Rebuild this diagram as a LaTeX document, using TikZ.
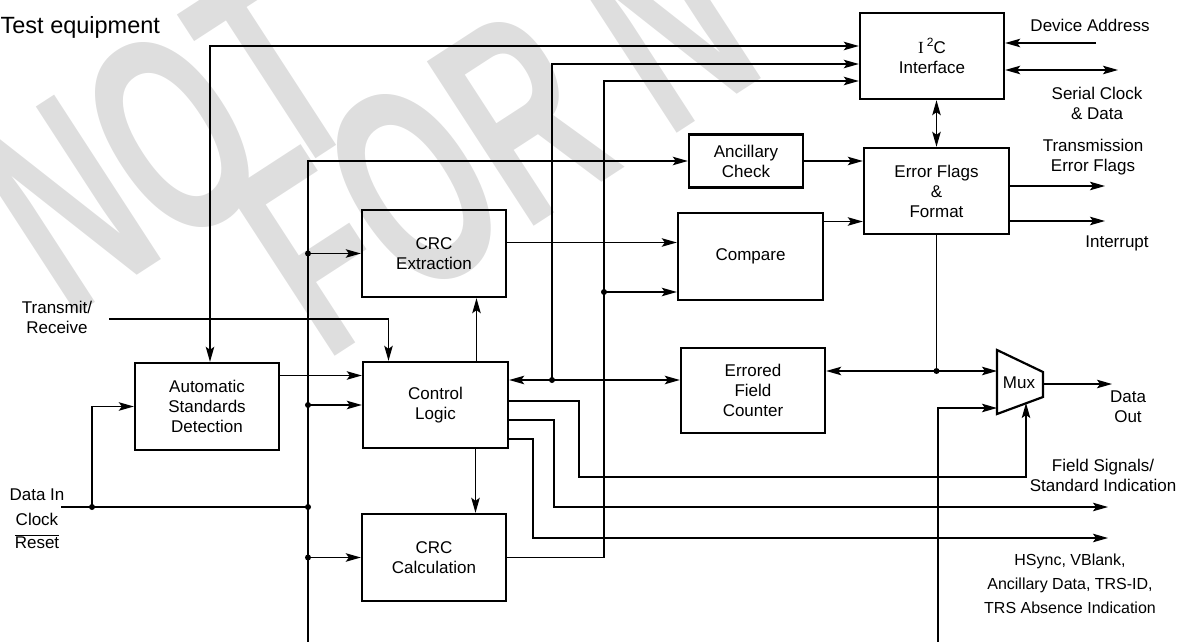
\documentclass[tikz,border=0pt]{standalone}
\usepackage{fontspec}
\setmainfont{Liberation Sans}
\newfontfamily\timesfont{Liberation Serif}
\usetikzlibrary{arrows.meta,positioning}
\tikzset{
	bloque/.style={rectangle, draw, line width=2.4pt, minimum width=144pt,
		minimum height=86pt, align=center, inner sep=0pt,
		font=\fontsize{17}{20}\selectfont},
	texto/.style={align=center, inner sep=0pt, font=\fontsize{17}{20}\selectfont},
	marca/.style={text=black!13, inner sep=0pt, rotate=33,
		font=\fontsize{285}{285}\bfseries\selectfont},
	punto/.style={fill=black}
}
\newcommand{\estrecho}[1]{\scalebox{0.6}[1]{#1}}

\begin{document}
\begin{tikzpicture}[x=1pt, y=-1pt, line width=1.3pt,
	>={Stealth[length=15pt,width=8.5pt,inset=3pt]}]
	\useasboundingbox (0,0) rectangle (1178,642);
	% marca de agua
	\begin{scope}
		\clip (0,0) rectangle (1178,642);
		\node[marca] (no) at (165,140) {\estrecho{NOT}};
		\node[marca] (fn) at (495,135) {\estrecho{FOR N}};
	\end{scope}
	
	\node[texto, anchor=west, font=\fontsize{23.5}{26}\selectfont] (test) at (0,27) {Test equipment};
	
	% bloques
	\node[bloque] (i2c) at (932,56) {{\timesfont I}\hspace{3pt}\raisebox{7pt}{\fontsize{12}{12}\selectfont 2}C\\Interface};
	\node[bloque, minimum width=114pt, minimum height=53pt] (anc) at (746,161) {Ancillary\\Check};
	\node[bloque, minimum width=145pt] (flags) at (936.5,191) {Error Flags\\\&\\Format};
	\node[bloque, minimum height=87pt] (crcx) at (434,253.5) {CRC\\Extraction};
	\node[bloque, minimum width=145pt, minimum height=87pt] (comp) at (750.5,256.5) {Compare};
	\node[bloque, minimum width=145pt] (ctrl) at (435.5,405) {Control\\Logic};
	\node[bloque, minimum height=87pt] (asd) at (207,406.5) {Automatic\\Standards\\Detection};
	\node[bloque, minimum height=85pt] (efc) at (753,390.5) {Errored\\Field\\Counter};
	\node[bloque, minimum height=87pt] (crcc) at (434,557.5) {CRC\\Calculation};
	
	% mux
	\draw[line width=2.2pt, line join=miter] (997,350) -- (1043,372) -- (1043,397) -- (997,414) -- cycle;
	\node[texto] (mux) at (1019,383) {Mux};
	\coordinate (muxa) at (997,371);
	\coordinate (muxb) at (997,408);
	\coordinate (muxc) at (1026,403);
	\coordinate (muxo) at (1043,384);
	
	% extremos libres
	\coordinate (bus) at (308,642);
	\coordinate (din) at (61,507);
	\coordinate (dj) at (92,507);
	\coordinate (trx) at (109,319);
	\coordinate (j1) at (552,380);
	\coordinate (j2) at (604,292);
	\coordinate (j3) at (flags.south |- muxa);
	\coordinate (dev) at (1096,43);
	\coordinate (scl) at (1118,70);
	\coordinate (tef) at (1105,186);
	\coordinate (irq) at (1105,221);
	\coordinate (dout) at (1112,384);
	\coordinate (sync) at (1108,507);
	\coordinate (hs) at (1108,538);
	\coordinate (mbot) at (938,642);
	
	% conexiones
	\draw[->] (bus) |- (anc.west);
	\draw[->] (bus |- crcx.west) -- (crcx.west);
	\draw[->] (bus |- ctrl.west) -- (ctrl.west);
	\draw[->] (bus |- crcc.west) -- (crcc.west);
	\draw (din) -- (bus |- din);
	\draw[->] (dj) |- (asd.west);
	\draw[->] (trx) -| ([xshift=-47pt]ctrl.north);
	\draw[<->] ([xshift=3pt]asd.north) |- ([yshift=10pt]i2c.west);
	\draw[->] ([yshift=31pt]asd.east) -- ([yshift=31pt]asd.east -| ctrl.west);
	\draw[->] ([xshift=41pt]ctrl.north) -- ([xshift=41pt]ctrl.north |- crcx.south);
	\draw[->] ([xshift=40pt]ctrl.south) -- ([xshift=40pt]ctrl.south |- crcc.north);
	\draw[<->] (ctrl.east |- j1) -- (efc.west |- j1);
	\draw[->] (j1) |- ([yshift=-8pt]i2c.west);
	\draw[->] (crcc.east) -| (j2) |- ([yshift=-25pt]i2c.west);
	\draw[->] (j2) -- (comp.west |- j2);
	\draw[->] ([yshift=11pt]crcx.east) -- ([yshift=11pt]crcx.east -| comp.west);
	\draw[->] ([yshift=35pt]comp.east) -- ([yshift=35pt]comp.east -| flags.west);
	\draw[->] (anc) -- (anc -| flags.west);
	\draw[<->] (flags.north) -- (flags.north |- i2c.south);
	\draw[->] (dev) -- (dev -| i2c.east);
	\draw[<->] (scl -| i2c.east) -- (scl);
	\draw[->] (flags.east |- tef) -- (tef);
	\draw[->] (flags.east |- irq) -- (irq);
	\draw (flags.south) -- (j3);
	\draw[<->] (efc.east |- muxa) -- (muxa);
	\draw[->] (mbot) |- (muxb);
	\draw[->] (muxo) -- (dout);
	\draw[->] ([yshift=4pt]ctrl.east) -| (579,477) -| (muxc);
	\draw[->] ([yshift=-15pt]ctrl.east) -| (554,507) -- (sync);
	\draw[->] ([yshift=-34pt]ctrl.east) -| (533,538) -- (hs);
	
	\foreach \p in {bus |- crcx.west, bus |- ctrl.west, bus |- din, bus |- crcc.west, dj, j1, j2, j3}
		\fill[punto] (\p) circle (3pt);
	
	% etiquetas
	\node[texto] (dev-l) at (1090,25) {Device Address};
	\node[texto] (scl-l) at (1097,103) {Serial Clock\\\& Data};
	\node[texto] (tef-l) at (1093,157) {Transmission\\Error Flags};
	\node[texto] (irq-l) at (1117,243) {Interrupt};
	\node[texto] (dout-l) at (1128,407) {Data\\Out};
	\node[texto] (fs-l) at (1103,475) {Field Signals/\\Standard Indication};
	\node[texto, font=\fontsize{16}{24}\selectfont] (hs-l) at (1070,584) {HSync, VBlank,\\Ancillary Data, TRS-ID,\\TRS Absence Indication};
	\node[texto] (trx-l) at (57,317) {Transmit/\\Receive};
	\node[texto] (din-l) at (37,495) {Data In};
	\node[texto] (clk-l) at (37,519) {Clock};
	\node[texto] (rst-l) at (37,542) {$\overline{\mbox{Reset}}$};
\end{tikzpicture}
\end{document}
